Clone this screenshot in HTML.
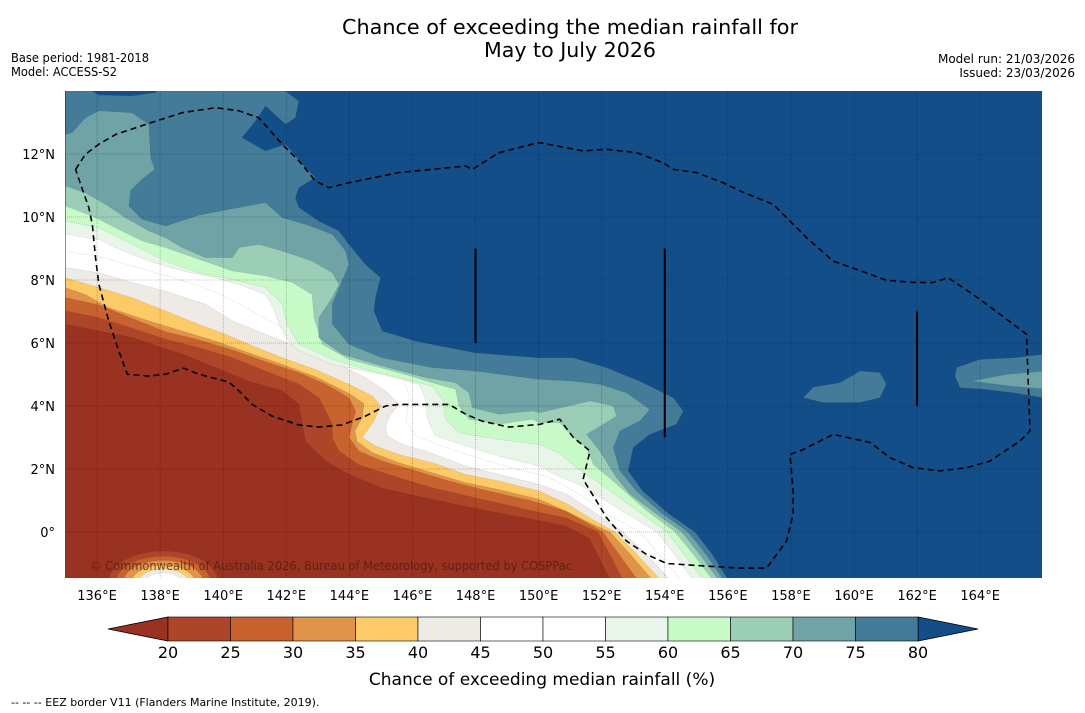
<!DOCTYPE html>
<html><head><meta charset="utf-8"><style>
html,body{margin:0;padding:0;background:#fff;}
svg{display:block;font-family:"DejaVu Sans","Liberation Sans",sans-serif;}
</style></head><body>
<svg id="chart" width="1085" height="713" viewBox="0 0 1085 713" xmlns="http://www.w3.org/2000/svg">
<rect width="1085" height="713" fill="#fff"/>
<text x="570" y="34" font-size="20" text-anchor="middle" textLength="456" lengthAdjust="spacingAndGlyphs">Chance of exceeding the median rainfall for</text>
<text x="570" y="57" font-size="20" text-anchor="middle" textLength="172" lengthAdjust="spacingAndGlyphs">May to July 2026</text>
<text x="11" y="62" font-size="12" textLength="138" lengthAdjust="spacingAndGlyphs">Base period: 1981-2018</text>
<text x="11" y="76" font-size="12" textLength="106" lengthAdjust="spacingAndGlyphs">Model: ACCESS-S2</text>
<text x="1075" y="63" font-size="12" text-anchor="end">Model run: 21/03/2026</text>
<text x="1075" y="77" font-size="12" text-anchor="end">Issued: 23/03/2026</text>
<defs><clipPath id="mapclip"><rect x="65" y="91" width="977" height="487"/></clipPath></defs>
<g id="map" clip-path="url(#mapclip)"></g>
<g id="axes"></g>
<g id="cbar"></g>
<text x="542" y="685" font-size="17" text-anchor="middle">Chance of exceeding median rainfall (%)</text>
<text x="11" y="706" font-size="11">--  --  -- EEZ border V11 (Flanders Marine Institute, 2019).</text>
</svg>
<script>
const levels=[20,25,30,35,40,45,50,55,60,65,70,75,80];
const bandColors=['#993220','#ad4628','#c8622f','#e0934a','#fdca68','#eeebe6','#ffffff','#ffffff','#e9f5e8','#c8fbc8','#9ccdb6','#6fa3a5','#447b98','#144e88'];
const lonTicks=[136,138,140,142,144,146,148,150,152,154,156,158,160,162,164];
const latTicks=[0,2,4,6,8,10,12];
const c20=[[135,6.59],[136.06,6.38],[137.11,6.17],[138.7,5.64],[139.76,5.22],[140.81,4.79],[141.87,4.48],[142.4,4.05],[142.51,3.4],[142.61,2.87],[143.25,2.25],[143.99,1.83],[145.04,1.39],[145.99,1.17],[147.98,0.75],[149.8,0.4],[150.86,0.19],[151.6,-0.2],[152.26,-1.5]];
const c25=[[135,7.02],[136.06,6.8],[137.11,6.47],[138.17,6.12],[139.23,5.85],[140.29,5.53],[141.34,5.11],[142.4,4.69],[143.03,4.26],[143.25,3.84],[143.46,3.4],[143.46,2.97],[143.67,2.57],[144.3,2.13],[145.57,1.72],[146.63,1.4],[147.98,1.09],[149.8,0.67],[150.86,0.45],[151.88,0],[152.67,-1.5]];
const c30=[[135,7.44],[136.06,7.21],[137.11,6.78],[138.17,6.36],[139.23,6.1],[140.29,5.78],[141.34,5.41],[142.4,5.06],[143.25,4.69],[143.99,4.26],[144.2,3.84],[144.09,3.42],[143.99,3],[144.3,2.57],[145.04,2.25],[146.1,1.94],[147.16,1.62],[148.21,1.35],[149.8,0.98],[150.86,0.67],[152.04,0],[153.12,-1.5]];
const c35=[[135,7.76],[135.63,7.54],[136.37,7.12],[137.64,6.7],[138.7,6.38],[139.76,6.06],[140.81,5.69],[141.87,5.32],[142.93,4.93],[143.99,4.4],[144.46,4.08],[144.41,3.63],[144.18,3.21],[144.25,2.87],[144.73,2.52],[145.57,2.2],[146.63,1.88],[147.68,1.57],[148.74,1.35],[150.01,1.04],[150.9,0.65],[151.6,0.3],[152.26,0],[152.9,-0.7],[153.59,-1.5]];
const c40=[[135,8.07],[136.06,7.76],[137.11,7.44],[138.17,7.02],[139.23,6.59],[140.07,6.28],[140.81,5.96],[141.87,5.53],[142.93,5.16],[143.99,4.69],[144.73,4.32],[144.99,4],[144.78,3.52],[144.41,3],[144.83,2.73],[145.57,2.46],[146.63,2.2],[147.68,1.83],[148.74,1.62],[150.01,1.3],[150.9,0.9],[151.7,0.4],[152.42,0],[153.1,-0.7],[153.85,-1.5]];
const c45=[[135,8.39],[136.06,8.23],[137.11,7.92],[138.17,7.65],[139.44,7.23],[140.29,6.7],[141.34,6.28],[142.4,5.85],[143.46,5.43],[144.51,4.9],[145.15,4.48],[145.57,4.05],[145.31,3.74],[145.15,3.37],[145.2,3.05],[145.68,2.78],[146.42,2.57],[147.68,2.1],[148.74,1.83],[150.01,1.51],[150.9,1.2],[151.8,0.6],[152.68,0],[153.4,-0.7],[154.16,-1.5]];
const c50=[[135,8.9],[136.06,8.75],[137.11,8.45],[138.17,8.15],[139.44,7.75],[140.5,7.25],[141.3,6.8],[142.2,6.3],[143.46,5.85],[144.8,5.45],[145.7,4.9],[145.9,4.3],[145.8,3.5],[146.1,3.05],[147.3,2.6],[148.74,2.15],[150.3,1.75],[151.3,1.2],[152.2,0.55],[153.2,0],[153.8,-0.7],[154.5,-1.5]];
const c55=[[135,9.45],[136.06,9.29],[136.59,9.03],[137.64,8.6],[138.7,8.29],[139.76,8.07],[140.5,7.86],[141.34,7.54],[141.61,7.07],[141.77,6.59],[142.03,6.12],[142.4,5.75],[143.46,5.32],[145.04,5],[146.21,4.69],[146.42,4.21],[146.47,3.58],[146.73,3.05],[147.68,2.73],[148.74,2.41],[150.01,2.1],[150.57,1.8],[151.3,1.5],[152.6,0.7],[153.75,0],[154.3,-0.7],[154.89,-1.5]];
const c60=[[135,9.87],[136.06,9.66],[136.9,9.24],[137.64,8.87],[138.17,8.6],[139.23,8.23],[140.29,8.02],[141.34,7.76],[141.87,7.23],[142.03,6.59],[142.4,5.96],[143.46,5.48],[144.51,5.16],[145.57,4.9],[146.63,4.63],[146.95,4.21],[147.05,3.58],[147.47,3.15],[148.74,2.94],[150.01,2.78],[150.67,2.5],[151.2,2.04],[152,1.5],[153.1,0.7],[154.07,0],[154.6,-0.7],[155.21,-1.5]];
const c65=[[135,10.35],[135.85,10.03],[136.59,9.66],[137.43,9.24],[138.17,9.03],[139.23,8.66],[140.29,8.29],[141.34,8.13],[142.19,7.92],[142.82,7.54],[142.88,6.8],[143.14,5.96],[143.99,5.48],[145.57,5.06],[146.63,4.74],[147.37,4.53],[147.47,4],[147.79,3.58],[148.74,3.42],[149.8,3.58],[150.04,3.47],[150.67,3.47],[151.1,3],[151.52,2.68],[151.73,2.15],[152.5,1.5],[153.4,0.7],[154.33,0],[154.9,-0.7],[155.5,-1.5]];
const c70=[[135,10.98],[135.63,10.77],[136.27,10.4],[136.9,9.98],[137.64,9.56],[138.17,9.34],[138.7,9.03],[139.44,8.71],[140.29,8.71],[140.5,9.03],[141.13,9.13],[141.87,8.92],[142.82,8.6],[143.46,8.23],[143.67,7.86],[143.46,7.44],[143.03,6.8],[143.03,6.17],[143.77,5.64],[145.04,5.27],[146.42,4.9],[147.37,4.74],[147.79,4.42],[147.9,3.95],[148.74,3.74],[149.8,3.84],[150.04,3.79],[151.63,4.16],[152.37,4],[152.47,3.68],[152.05,3.42],[151.52,3.1],[151.94,2.57],[152.47,1.72],[152.9,1.2],[153.7,0.6],[154.54,0],[155.1,-0.7],[155.69,-1.5]];
const c75=[[135,12.62],[135.21,12.68],[135.63,13.15],[136.06,13.37],[137.11,13.31],[137.64,12.94],[137.7,11.88],[137.83,11.51],[137.43,11.2],[137.06,10.83],[137.01,10.35],[137.43,9.93],[138.17,9.71],[139.23,10.06],[140.5,10.3],[141.34,10.46],[141.87,9.98],[142.61,9.77],[143.46,9.45],[143.88,8.92],[143.99,8.5],[143.77,7.97],[143.46,7.23],[143.46,6.59],[143.99,5.96],[145.04,5.53],[146.63,5.22],[147.98,5.11],[149.99,4.85],[151.1,4.79],[151.94,4.69],[152.79,4.42],[153.53,3.89],[153.21,3.52],[152.58,3.21],[152.37,2.68],[152.58,1.94],[153.1,1.3],[153.9,0.6],[154.74,0],[155.3,-0.7],[155.85,-1.5]];
const c80=[[141.98,14],[142.4,13.68],[142.29,13.15],[141.98,12.94],[141.34,13.52],[141.03,13.05],[140.6,12.52],[141.34,12.1],[141.98,12.31],[142.61,11.57],[142.93,11.25],[142.4,10.93],[142.29,10.61],[142.4,10.3],[143.03,9.87],[143.67,9.56],[143.99,9.13],[144.51,8.5],[144.99,8.07],[144.83,7.44],[144.78,7.02],[145.04,6.38],[146.1,6.06],[147.98,5.69],[149.99,5.53],[151.1,5.53],[152.15,5.22],[153.21,4.79],[154.27,4.26],[154.59,3.84],[154.37,3.42],[153.53,3.1],[153,2.68],[152.84,1.94],[153.3,1.3],[154.1,0.6],[154.96,0],[155.5,-0.7],[156,-1.5]];
const contours=[c20,c25,c30,c35,c40,c45,c50,c55,c60,c65,c70,c75,c80];
const topStripHigh=[[135.85,14],[136.06,13.87],[137.11,13.84],[137.85,13.95],[137.9,14]];
const patchA75=[[158.39,4.26],[158.71,4.6],[159.55,4.74],[160.19,5.11],[160.82,5.06],[161.03,4.69],[160.82,4.26],[160.19,4.11],[159.03,4.11]];
const patchB75=[[163.25,5.22],[163.99,5.48],[165.05,5.53],[166,5.64],[166,4.26],[165.05,4.42],[164.1,4.53],[163.36,4.58],[163.2,4.95]];
const patchC70=[[163.78,4.79],[164.84,5.0],[166,5.1],[166,4.55],[165.05,4.63]];
const blobCenter=[138.1,-1.6];
const blobRx=[1.75,1.5,1.27,1.0,0.8,0.57];
const blobRy=[1.0,0.83,0.7,0.55,0.42,0.3];
const eez=[[135.32,11.51],[135.63,11.99],[136.06,12.31],[136.59,12.62],[137.64,12.97],[138.7,13.31],[139.76,13.47],[140.5,13.37],[141.13,13.15],[141.87,12.31],[142.4,11.78],[142.93,11.14],[143.35,10.93],[143.99,11.09],[145.57,11.41],[147.69,11.62],[147.9,11.51],[148.74,12.04],[149.8,12.31],[150.04,12.36],[151.41,12.1],[152.15,12.15],[153.11,12.04],[153.95,11.72],[154.27,11.51],[155.01,11.41],[155.85,11.09],[156.38,10.83],[157.44,10.4],[157.86,9.98],[158.5,9.34],[159.34,8.6],[160.08,8.34],[161.03,7.99],[161.88,7.92],[162.51,7.92],[162.99,8.07],[163.78,7.54],[164.63,6.91],[165.47,6.28],[165.58,3.21],[165.26,2.89],[164.31,2.25],[163.57,2.04],[162.73,1.94],[161.88,2.04],[161.14,2.36],[160.51,2.84],[159.34,3.1],[158.29,2.57],[157.97,2.47],[158.07,1.3],[158.07,0.56],[157.86,-0.29],[157.23,-1.15],[156.38,-1.15],[154.06,-1.0],[153.42,-0.71],[152.79,-0.29],[152.15,0.46],[151.84,0.98],[151.41,1.67],[151.63,2.57],[151.1,3.0],[150.67,3.58],[150.04,3.42],[149.06,3.33],[148.21,3.52],[147.69,3.74],[147.16,4.05],[145.57,4.05],[145.15,4.0],[144.51,3.68],[143.77,3.4],[143.03,3.33],[142.4,3.4],[141.55,3.68],[140.92,4.05],[140.5,4.48],[140.18,4.76],[139.23,5.01],[138.75,5.2],[138.17,5.01],[137.64,4.95],[136.96,5.01],[136.69,5.75],[136.37,6.7],[136.06,7.86],[135.95,8.71],[135.85,9.77],[135.74,10.3],[135.48,11.04],[135.32,11.51]];
const meridianSegs=[[148,9,6],[154,9,3],[162,7,4]];

const NS='http://www.w3.org/2000/svg';
const LON0=135,LON1=166,LAT0=-1.5,LAT1=14;
function xs(lon){return 65.5+(lon-LON0)*31.54;}
function ys(lat){return 91+(LAT1-lat)*31.5;}
function mk(tag,attrs,parent){const e=document.createElementNS(NS,tag);for(const k in attrs)e.setAttribute(k,attrs[k]);parent.appendChild(e);return e;}
function pts(arr){return arr.map(p=>xs(p[0]).toFixed(1)+','+ys(p[1]).toFixed(1)).join(' ');}
const map=document.getElementById('map');
let bg=mk('rect',{x:65,y:91,width:977,height:487,fill:bandColors[0]},map);


contours.forEach((c,i)=>{
  const poly=c.slice();
  poly.push([LON1,LAT0],[LON1,LAT1]);
  if(c[0][0]<=LON0)poly.push([LON0,LAT1]);
  const p=mk('polygon',{points:pts(poly),fill:bandColors[i+1],stroke:'rgba(0,0,0,0.1)','stroke-width':0.6},map);
  
  
});
let ts=mk('polygon',{points:pts(topStripHigh),fill:bandColors[13]},map);


let pa=mk('polygon',{points:pts(patchA75),fill:bandColors[12],stroke:'rgba(0,0,0,0.1)','stroke-width':0.6},map);


let pb=mk('polygon',{points:pts(patchB75),fill:bandColors[12],stroke:'rgba(0,0,0,0.1)','stroke-width':0.6},map);


let pc=mk('polygon',{points:pts(patchC70),fill:bandColors[11]},map);


blobRx.forEach((rx,i)=>{
  const e=mk('ellipse',{cx:xs(blobCenter[0]),cy:ys(blobCenter[1]),rx:rx*31.54,ry:blobRy[i]*31.5,fill:bandColors[i+1],stroke:'rgba(0,0,0,0.1)','stroke-width':0.6},map);
  
  
});
lonTicks.forEach(l=>{const g=mk('line',{x1:xs(l),x2:xs(l),y1:91,y2:578,stroke:'rgba(0,0,0,0.3)','stroke-width':0.8,'stroke-dasharray':'1,1'},map);

});
latTicks.forEach(l=>{const g=mk('line',{x1:65,x2:1042,y1:ys(l),y2:ys(l),stroke:'rgba(0,0,0,0.3)','stroke-width':0.8,'stroke-dasharray':'1,1'},map);

});
meridianSegs.forEach(s=>{const g=mk('line',{x1:xs(s[0]),x2:xs(s[0]),y1:ys(s[1]),y2:ys(s[2]),stroke:'#000','stroke-width':2},map);

});
const ez=mk('polyline',{points:pts(eez),fill:'none',stroke:'#000','stroke-width':1.6,'stroke-dasharray':'6,4'},map);


const cr=mk('text',{x:90,y:570,'font-size':12,fill:'rgba(70,30,20,0.75)',textLength:482,lengthAdjust:'spacingAndGlyphs'},map);
cr.textContent='© Commonwealth of Australia 2026, Bureau of Meteorology, supported by COSPPac';


const ax=document.getElementById('axes');
lonTicks.forEach(l=>{const t=mk('text',{x:xs(l),y:600,'font-size':13,'text-anchor':'middle'},ax);t.textContent=l+'°E';

});
latTicks.forEach(l=>{const t=mk('text',{x:55,y:ys(l)+5,'font-size':13,'text-anchor':'end'},ax);t.textContent=l===0?'0°':l+'°N';

});
const cb=document.getElementById('cbar');
const bx0=168,bx1=918,by0=617,by1=641,bw=(bx1-bx0)/(levels.length-1);
let lt=mk('polygon',{points:`108,629 ${bx0},${by0} ${bx0},${by1}`,fill:bandColors[0],stroke:'#000','stroke-width':0.8},cb);


let rt=mk('polygon',{points:`978,629 ${bx1},${by0} ${bx1},${by1}`,fill:bandColors[13],stroke:'#000','stroke-width':0.8},cb);


for(let i=0;i<levels.length-1;i++){
  const r=mk('rect',{x:bx0+i*bw,y:by0,width:bw,height:by1-by0,fill:bandColors[i+1],stroke:'#000','stroke-width':0.6},cb);
  
  
}
levels.forEach((v,i)=>{const t=mk('text',{x:bx0+i*bw,y:658,'font-size':16,'text-anchor':'middle'},cb);t.textContent=v;

});
</script>
</body></html>
